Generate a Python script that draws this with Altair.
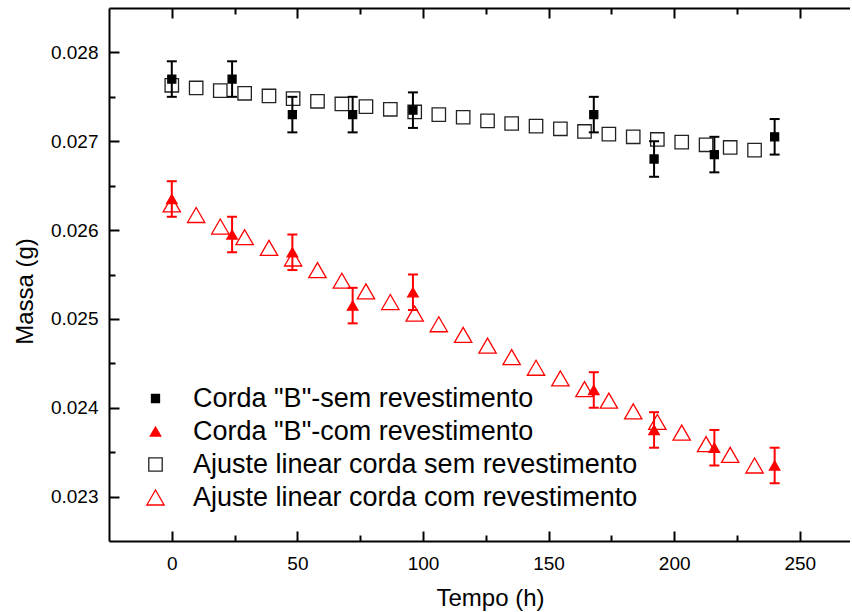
import altair as alt
import pandas as pd

FONT = "Liberation Sans"

# ---- data ----
t_data = [0, 24, 48, 72, 96, 168, 192, 216, 240]
massa_sem = [0.0277, 0.0277, 0.0273, 0.0273, 0.02735, 0.0273, 0.0268, 0.02685, 0.02705]
err_sem = [0.0002, 0.0002, 0.0002, 0.0002, 0.0002, 0.0002, 0.0002, 0.0002, 0.0002]
massa_com = [0.02635, 0.02595, 0.02575, 0.02515, 0.0253, 0.0242, 0.02375, 0.02355, 0.02335]
err_com = [0.0002, 0.0002, 0.0002, 0.0002, 0.0002, 0.0002, 0.0002, 0.0002, 0.0002]

t_fit = [0.0, 9.7, 19.3, 29.0, 38.7, 48.3, 58.0, 67.7, 77.3, 87.0, 96.7, 106.3, 116.0,
         125.7, 135.3, 145.0, 154.7, 164.3, 174.0, 183.7, 193.3, 203.0, 212.7, 222.3, 232.0]
fit_sem = [0.02763, 0.02760, 0.02757, 0.02754, 0.02751, 0.02748, 0.02745, 0.02742, 0.02739,
           0.02736, 0.02733, 0.02730, 0.02727, 0.02723, 0.02720, 0.02717, 0.02714, 0.02711,
           0.02708, 0.02705, 0.02702, 0.02699, 0.02696, 0.02693, 0.02690]
fit_com = [0.02629, 0.02617, 0.02604, 0.02592, 0.02580, 0.02568, 0.02555, 0.02543, 0.02531,
           0.02519, 0.02506, 0.02494, 0.02482, 0.02470, 0.02457, 0.02445, 0.02433, 0.02421,
           0.02408, 0.02396, 0.02384, 0.02372, 0.02359, 0.02347, 0.02335]

series = ['Corda "B"-sem revestimento', 'Corda "B"-com revestimento',
          'Ajuste linear corda sem revestimento', 'Ajuste linear corda com revestimento']

x_major = [0, 50, 100, 150, 200, 250]
x_minor = [25, 75, 125, 175, 225]
y_major = [0.023, 0.024, 0.025, 0.026, 0.027, 0.028]
y_minor = [0.0235, 0.0245, 0.0255, 0.0265, 0.0275]

W, H = 741, 533

df_sem = pd.DataFrame({"t": t_data, "m": massa_sem,
                       "lo": [m - e for m, e in zip(massa_sem, err_sem)],
                       "hi": [m + e for m, e in zip(massa_sem, err_sem)],
                       "serie": series[0]})
df_com = pd.DataFrame({"t": t_data, "m": massa_com,
                       "lo": [m - e for m, e in zip(massa_com, err_com)],
                       "hi": [m + e for m, e in zip(massa_com, err_com)],
                       "serie": series[1]})
df_fsem = pd.DataFrame({"t": t_fit, "m": fit_sem, "serie": series[2]})
df_fcom = pd.DataFrame({"t": t_fit, "m": fit_com, "serie": series[3]})

xs = alt.Scale(domain=[-25, 270], nice=False, zero=False)
ys = alt.Scale(domain=[0.0225, 0.0285], nice=False, zero=False)

tick_common = dict(labels=False, grid=False, title=None, tickColor="black", tickWidth=2)

ax_x_lab = alt.Axis(orient="bottom", values=x_major, ticks=False, tickSize=0, domain=True,
                    domainColor="black", domainWidth=2, grid=False, labelFont=FONT,
                    labelFontSize=19, labelColor="black", labelPadding=13, labelFlush=False,
                    title="Tempo (h)", titleFont=FONT, titleFontSize=24, titleFontWeight="normal",
                    titleColor="black", titleX=381, titleY=64, titleBaseline="alphabetic",
                    titleAlign="center")
ax_x_bmaj = alt.Axis(orient="top", offset=-H, values=x_major, domain=False, tickSize=10, **tick_common)
ax_x_bmin = alt.Axis(orient="top", offset=-H, values=x_minor, domain=False, tickSize=6, **tick_common)
ax_x_tmaj = alt.Axis(orient="bottom", offset=-H, values=x_major, domain=True, domainColor="black",
                     domainWidth=2, tickSize=10, **tick_common)
ax_x_tmin = alt.Axis(orient="bottom", offset=-H, values=x_minor, domain=False, tickSize=6, **tick_common)

ax_y_lab = alt.Axis(orient="left", values=y_major, format=".3f", ticks=False, tickSize=0, domain=True,
                    domainColor="black", domainWidth=2, grid=False, labelFont=FONT, labelFontSize=19,
                    labelColor="black", labelPadding=11, title="Massa (g)", titleFont=FONT,
                    titleFontSize=24, titleFontWeight="normal", titleColor="black", titleX=-77,
                    titleY=283, titleAngle=270, titleBaseline="alphabetic", titleAlign="center")
ax_y_maj = alt.Axis(orient="right", offset=-W, values=y_major, domain=False, tickSize=10, **tick_common)
ax_y_min = alt.Axis(orient="right", offset=-W, values=y_minor, domain=False, tickSize=6, **tick_common)

leg = alt.Legend(orient="none", legendX=33, legendY=377, direction="vertical", title=None,
                 labelFont=FONT, labelFontSize=27, labelColor="black", labelLimit=900,
                 rowPadding=5, labelOffset=24, symbolStrokeWidth=1.3, padding=0, symbolOpacity=1)

enc_leg = dict(
    stroke=alt.Stroke("serie:N", scale=alt.Scale(domain=series, range=["black", "red", "#222222", "red"]), legend=leg),
    fill=alt.Fill("serie:N", scale=alt.Scale(domain=series, range=["black", "red", "transparent", "transparent"]), legend=leg),
    shape=alt.Shape("serie:N", scale=alt.Scale(domain=series, range=["square", "triangle-up", "square", "triangle-up"]), legend=leg),
    size=alt.Size("serie:N", scale=alt.Scale(type="ordinal", domain=series, range=[64, 110, 180, 300]), legend=leg),
)

pt = dict(strokeWidth=1.3, opacity=1)

l_fsem = alt.Chart(df_fsem).mark_point(**pt).encode(
    x=alt.X("t:Q", scale=xs, axis=ax_x_lab), y=alt.Y("m:Q", scale=ys, axis=ax_y_lab), **enc_leg)
l_fcom = alt.Chart(df_fcom).mark_point(**pt).encode(
    x=alt.X("t:Q", scale=xs, axis=ax_x_bmaj), y=alt.Y("m:Q", scale=ys, axis=ax_y_maj), **enc_leg)

l_rule_sem = alt.Chart(df_sem).mark_rule(color="black", strokeWidth=2).encode(
    x=alt.X("t:Q", scale=xs, axis=ax_x_bmin), y=alt.Y("lo:Q", scale=ys, axis=ax_y_min), y2="hi:Q")
l_lo_sem = alt.Chart(df_sem).mark_tick(orient="horizontal", color="black", size=10, thickness=2, opacity=1).encode(
    x=alt.X("t:Q", scale=xs, axis=ax_x_tmaj), y=alt.Y("lo:Q", scale=ys, axis=None))
l_hi_sem = alt.Chart(df_sem).mark_tick(orient="horizontal", color="black", size=10, thickness=2, opacity=1).encode(
    x=alt.X("t:Q", scale=xs, axis=ax_x_tmin), y=alt.Y("hi:Q", scale=ys, axis=None))

l_rule_com = alt.Chart(df_com).mark_rule(color="red", strokeWidth=2).encode(
    x=alt.X("t:Q", scale=xs, axis=None), y=alt.Y("lo:Q", scale=ys, axis=None), y2="hi:Q")
l_lo_com = alt.Chart(df_com).mark_tick(orient="horizontal", color="red", size=10, thickness=2, opacity=1).encode(
    x=alt.X("t:Q", scale=xs, axis=None), y=alt.Y("lo:Q", scale=ys, axis=None))
l_hi_com = alt.Chart(df_com).mark_tick(orient="horizontal", color="red", size=10, thickness=2, opacity=1).encode(
    x=alt.X("t:Q", scale=xs, axis=None), y=alt.Y("hi:Q", scale=ys, axis=None))

l_sem = alt.Chart(df_sem).mark_point(**pt).encode(
    x=alt.X("t:Q", scale=xs, axis=None), y=alt.Y("m:Q", scale=ys, axis=None), **enc_leg)
l_com = alt.Chart(df_com).mark_point(**pt).encode(
    x=alt.X("t:Q", scale=xs, axis=None), y=alt.Y("m:Q", scale=ys, axis=None), **enc_leg)

chart = alt.layer(
    l_fsem, l_fcom, l_rule_sem, l_lo_sem, l_hi_sem, l_rule_com, l_lo_com, l_hi_com, l_sem, l_com
).resolve_axis(x="independent", y="independent").properties(
    width=W, height=H,
    padding={"left": 109, "top": 8, "right": 0, "bottom": 70},
    autosize=alt.AutoSizeParams(type="none"),
    background="white",
).configure_view(stroke=None)

chart.save("out.html", embed_options={"renderer": "svg", "actions": False})
